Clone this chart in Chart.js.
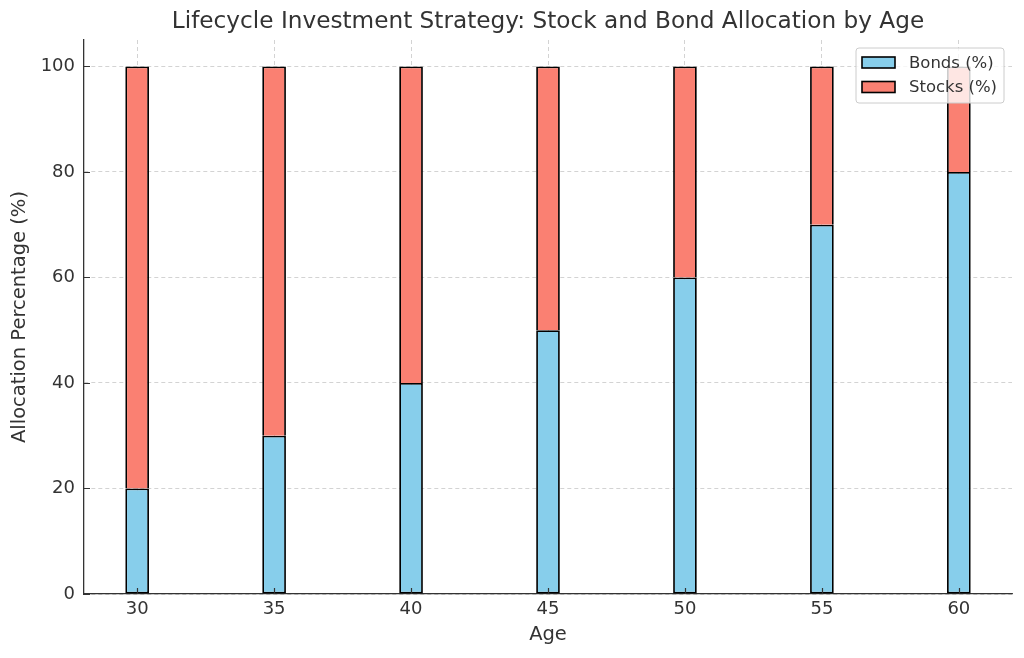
<!DOCTYPE html>
<html><head><meta charset="utf-8">
<script src="https://cdn.jsdelivr.net/npm/chart.js@4"></script>
<style>html,body{margin:0;padding:0;background:#fff}#wrap{width:1024px;height:658px}</style>
</head><body><div id="wrap"><canvas id="c" width="1024" height="658"></canvas></div>
<script>
const ages = [30, 35, 40, 45, 50, 55, 60];
const bonds = [20, 30, 40, 50, 60, 70, 80];
const stocks = [80, 70, 60, 50, 40, 30, 20];
const xTicks = [30, 35, 40, 45, 50, 55, 60];
const yTicks = [0, 20, 40, 60, 80, 100];
const titleText = 'Lifecycle Investment Strategy: Stock and Bond Allocation by Age';

const FONT = 'DejaVu Sans';
const TXT = '#333333';
const GRID = 'rgba(176,176,176,0.7)';

const titlePlugin = {
  id: 'mplTitle',
  afterDraw(chart) {
    const ctx = chart.ctx, a = chart.chartArea;
    const sx = chart.scales.x, sy = chart.scales.y;
    ctx.save();
    // inward tick marks
    ctx.strokeStyle = '#333';
    ctx.lineWidth = 1.2;
    ctx.beginPath();
    xTicks.forEach(v => {
      const px = Math.round(sx.getPixelForValue(v)) + 0.5;
      ctx.moveTo(px, a.bottom); ctx.lineTo(px, a.bottom - 6);
    });
    yTicks.forEach(v => {
      const py = Math.round(sy.getPixelForValue(v)) + 0.5;
      ctx.moveTo(a.left, py); ctx.lineTo(a.left + 6, py);
    });
    ctx.stroke();
    // title
    ctx.font = '23.2px "' + FONT + '"';
    ctx.fillStyle = TXT;
    ctx.textAlign = 'center';
    ctx.textBaseline = 'middle';
    ctx.fillText(titleText, (a.left + a.right) / 2, 22);
    // legend
    const ds = chart.data.datasets;
    const bx = 856, by = 48, bw = 148, bh = 55, r = 3;
    ctx.beginPath();
    ctx.moveTo(bx + r, by);
    ctx.arcTo(bx + bw, by, bx + bw, by + bh, r);
    ctx.arcTo(bx + bw, by + bh, bx, by + bh, r);
    ctx.arcTo(bx, by + bh, bx, by, r);
    ctx.arcTo(bx, by, bx + bw, by, r);
    ctx.closePath();
    ctx.fillStyle = 'rgba(255,255,255,0.8)';
    ctx.fill();
    ctx.strokeStyle = '#cccccc';
    ctx.lineWidth = 1;
    ctx.stroke();
    ctx.font = '16.5px "' + FONT + '"';
    ctx.textAlign = 'left';
    ds.forEach((d, i) => {
      const cy = 62.5 + i * 24.5;
      ctx.fillStyle = d.backgroundColor;
      ctx.fillRect(862, cy - 5.5, 33, 11);
      ctx.strokeStyle = '#000';
      ctx.lineWidth = 1.6;
      ctx.strokeRect(862, cy - 5.5, 33, 11);
      ctx.fillStyle = TXT;
      ctx.fillText(d.label, 909, cy + 1);
    });
    ctx.restore();
  }
};

new Chart(document.getElementById('c'), {
  type: 'bar',
  data: {
    datasets: [
      { label: 'Bonds (%)', data: ages.map((a, i) => ({ x: a, y: bonds[i] })),
        backgroundColor: '#87CEEB', borderColor: '#000', borderWidth: 1.8, borderSkipped: false },
      { label: 'Stocks (%)', data: ages.map((a, i) => ({ x: a, y: stocks[i] })),
        backgroundColor: '#FA8072', borderColor: '#000', borderWidth: 1.8, borderSkipped: 'bottom' }
    ]
  },
  options: {
    responsive: false,
    animation: false,
    devicePixelRatio: 1,
    layout: { padding: { top: 40, right: 12, left: 0, bottom: 0 } },
    datasets: { bar: { barPercentage: 0.173, categoryPercentage: 1 } },
    plugins: { legend: { display: false }, title: { display: false }, tooltip: { enabled: false } },
    scales: {
      x: {
        type: 'linear', stacked: true, min: 28.06, max: 61.94, offset: false, z: 1,
        afterBuildTicks: s => { s.ticks = xTicks.map(v => ({ value: v })); },
        afterFit: s => { s.height = 64; },
        grid: { color: GRID, lineWidth: 0.8, drawTicks: false, offset: false },
        border: { display: true, color: '#333', width: 1.3, dash: [4, 3] },
        ticks: { color: TXT, font: { family: FONT, size: 18 }, padding: 5, maxRotation: 0 },
        title: { display: true, text: 'Age', color: TXT, font: { family: FONT, size: 19.5 }, padding: { top: 2, bottom: 11.3 } }
      },
      y: {
        type: 'linear', stacked: true, min: 0, max: 105, z: 1,
        afterBuildTicks: s => { s.ticks = yTicks.map(v => ({ value: v })); },
        afterFit: s => { s.width = 84; },
        grid: { color: GRID, lineWidth: 0.8, drawTicks: false },
        border: { display: true, color: '#333', width: 1.3, dash: [4, 3] },
        ticks: { color: TXT, font: { family: FONT, size: 18 }, padding: 9 },
        title: { display: true, text: 'Allocation Percentage (%)', color: TXT, font: { family: FONT, size: 19.5 }, padding: { top: 8.3, bottom: 2 } }
      }
    }
  },
  plugins: [titlePlugin]
});
</script>
</body></html>
